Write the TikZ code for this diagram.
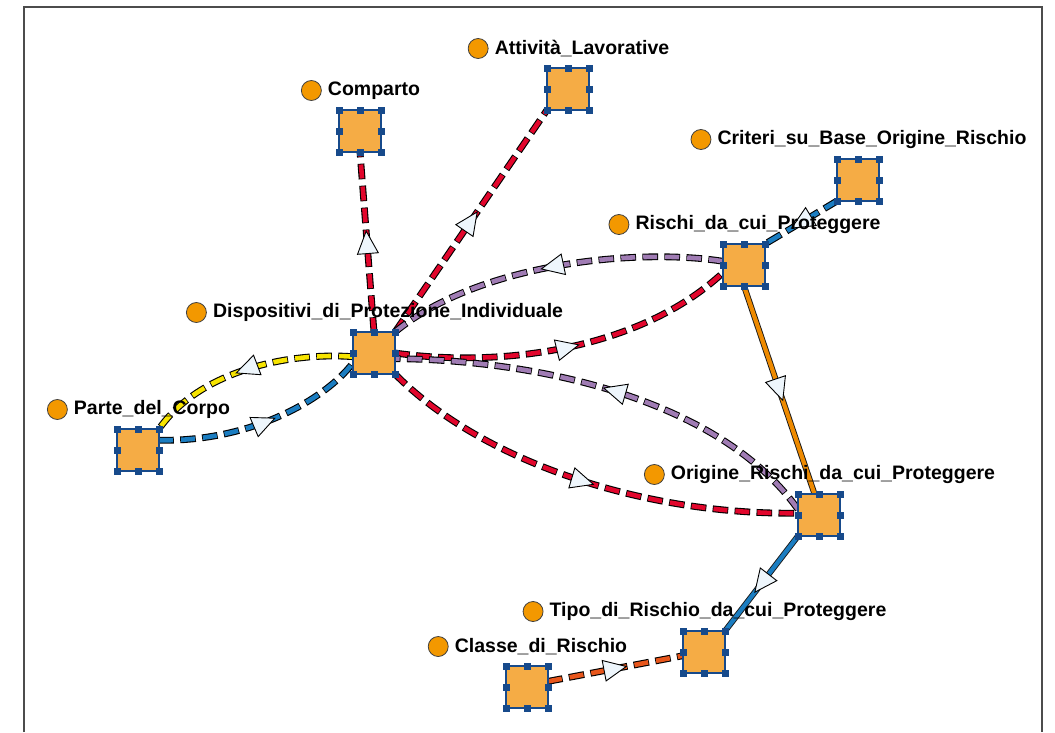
\documentclass[tikz,border=0pt]{standalone}
\usepackage{fontspec}
\setmainfont{Liberation Sans}
\usetikzlibrary{arrows.meta,positioning,decorations.markings,backgrounds}

\definecolor{boxfill}{HTML}{F5AC45}
\definecolor{boxline}{HTML}{174A8B}
\definecolor{dotfill}{HTML}{F39800}
\definecolor{tipfill}{HTML}{EEF6FC}
\definecolor{relred}{HTML}{E2062C}
\definecolor{relpurple}{HTML}{A07CB4}
\definecolor{relblue}{HTML}{1B7DC1}
\definecolor{relyellow}{HTML}{F7E400}
\definecolor{relorange}{HTML}{EE8A00}
\definecolor{relrust}{HTML}{E8561B}

\tikzset{
  entity/.style={draw=boxline, fill=boxfill, line width=2.2pt, minimum size=42pt, inner sep=0pt, outer sep=0pt},
  tag/.style={font=\bfseries\fontsize{19.5}{20}\selectfont, inner sep=0pt},
  bullet/.style={circle, draw=black!75, fill=dotfill, line width=0.8pt, minimum size=20pt, inner sep=0pt},
  midtip/.style={decoration={markings, mark=at position 0.5*\pgfdecoratedpathlength+12pt with {\arrow{Triangle[length=24pt, width=22pt, line width=0.9pt, color=black, fill=tipfill]}}}, postaction={decorate}},
  rel/.style={draw=#1, line width=4.6pt, dash pattern=on 14pt off 8pt,
    preaction={draw=black, line width=6.8pt, dash pattern=on 15.6pt off 6.4pt, dash phase=0.8pt}, midtip},
  relsolid/.style={draw=#1, line width=4.2pt, preaction={draw=black!90, line width=6pt}, midtip},
}

\begin{document}
\begin{tikzpicture}[x=1pt, y=-1pt]
    \useasboundingbox (0,0) rectangle (1055,732);

    % Frame
    \draw[gray!60!black, line width=1.2pt] (24,732) -- (24,7) -- (1042,7) -- (1042,732);

    % Entities
    \node[entity] (comp) at (360,131) {};
    \node[entity] (act)  at (568,89)  {};
    \node[entity] (crit) at (858,180) {};
    \node[entity] (risk) at (744,265) {};
    \node[entity] (dpi)  at (374,353) {};
    \node[entity] (body) at (138,450) {};
    \node[entity] (orig) at (819,515) {};
    \node[entity] (tipo) at (704,652) {};
    \node[entity] (cls)  at (527,687) {};

    % Handles
    \foreach \n in {comp,act,crit,risk,dpi,body,orig,tipo,cls}
      \foreach \a in {north west,north,north east,east,south east,south,south west,west}
        \fill[boxline] ([shift={(-3.5,-3.5)}]\n.\a) rectangle ++(7,7);

    % Labels
    \foreach \n/\t in {comp/Comparto, act/Attività\_Lavorative,
        crit/Criteri\_su\_Base\_Origine\_Rischio, risk/Rischi\_da\_cui\_Proteggere,
        dpi/Dispositivi\_di\_Protezione\_Individuale, body/Parte\_del\_Corpo,
        orig/Origine\_Rischi\_da\_cui\_Proteggere, tipo/Tipo\_di\_Rischio\_da\_cui\_Proteggere,
        cls/Classe\_di\_Rischio} {
      \node[tag] (\n-t) at ([shift={(14,-40.5)}]\n) {\t};
      \node[bullet, left=6pt of \n-t] (\n-d) {};
    }

    % Relations
    \begin{scope}[on background layer]
      \draw[rel=relred] (dpi.north) -- (comp.south);
      \draw[rel=relred] (dpi.north east) -- (act.south west);
      \draw[rel=relblue] (crit.south west) -- (risk.north east);
      \draw[rel=relpurple] (risk.170) .. controls (640,248) and (480,262) .. (dpi.north east);
      \draw[rel=relred] (dpi.east) .. controls (500,368) and (640,350) .. (risk.200);
      \draw[relsolid=relorange] (risk.south) -- (orig.102);
      \draw[rel=relpurple] (orig.165) .. controls (720,400) and (540,360) .. (dpi.345);
      \draw[rel=relred] (dpi.south east) .. controls (480,460) and (640,515) .. (orig.175);
      \draw[rel=relyellow] (dpi.190) .. controls (290,352) and (200,370) .. (body.north east);
      \draw[rel=relblue] (body.25) .. controls (250,442) and (325,400) .. (dpi.205);
      \draw[relsolid=relblue] (orig.south west) -- (tipo.north east);
      \draw[rel=relrust] (cls.15) -- (tipo.190);
    \end{scope}
\end{tikzpicture}
\end{document}
